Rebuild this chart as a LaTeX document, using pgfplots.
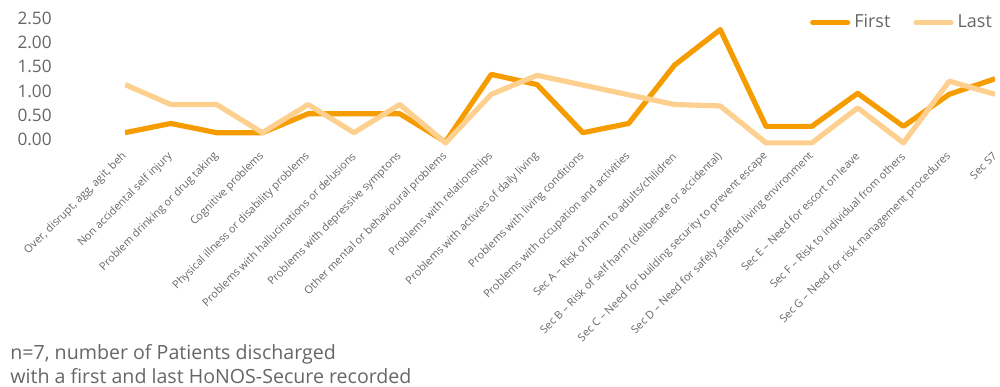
\documentclass[border=0pt]{standalone}
\usepackage{fontspec}
\setmainfont{Open Sans}
\usepackage{pgfplots}
\pgfplotsset{compat=1.18}
\definecolor{first}{HTML}{F59C00}
\definecolor{last}{HTML}{FDD08F}
\definecolor{txt}{HTML}{666666}

\begin{document}
\begin{tikzpicture}
\begin{axis}[
  scale only axis,
  width=435pt, height=65.6pt,
  xmin=0, xmax=19, ymin=-0.2, ymax=2.5,
  axis line style={draw=none},
  major tick length=0pt,
  xtick={0,...,19},
  xticklabels={
    {Over, disrupt, agg, agit, beh},
    Non accidental self injury,
    Problem drinking or drug taking,
    Cognitive problems,
    Physical illness or disability problems,
    Problems with hallucinations or delusions,
    Problems with depressive symptons,
    Other mental or behavioural problems,
    Problems with relationships,
    Problems with activies of daily living,
    Problems with living conditions,
    Problems with occupation and activities,
    Sec A – Risk of harm to adults/chilidren,
    Sec B – Risk of self harm (deliberate or accidental),
    Sec C – Need for building security to prevent escape,
    Sec D – Need for safely staffed living environment,
    Sec E – Need for escort on leave,
    Sec F – Risk to individual from others,
    Sec G – Need for risk management procedures,
    Sec S7},
  xticklabel style={rotate=45, anchor=east, inner sep=0pt, text=txt,
    font=\fontsize{5.45}{6}\selectfont},
  xticklabel shift=2.5pt,
  ytick={0,0.5,1,1.5,2,2.5},
  yticklabels={0.00,0.50,1.00,1.50,2.00,2.50},
  yticklabel style={anchor=east, inner sep=0pt, xshift=-36.5pt, text=txt,
    font=\fontsize{8.6}{9}\selectfont},
  legend columns=2,
  legend style={at={(rel axis cs:1.0084,1.09)}, anchor=north east, draw=none, fill=none,
    text=txt, font=\fontsize{9}{10}\selectfont,
    /tikz/every even column/.append style={column sep=9.5pt}},
  legend image code/.code={\draw[#1, line cap=round] (0pt,0pt) -- (17.5pt,0pt);},
]
\coordinate (bl) at (rel axis cs:0,0);
\coordinate (tr) at (rel axis cs:1,1);
\addplot[first, line width=2.6pt, line join=round, mark=none] coordinates {
  (0,0.14) (1,0.33) (2,0.14) (3,0.14) (4,0.53) (5,0.53) (6,0.53) (7,-0.05)
  (8,1.34) (9,1.13) (10,0.14) (11,0.33) (12,1.53) (13,2.26) (14,0.27)
  (15,0.27) (16,0.95) (17,0.27) (18,0.93) (19,1.25)};
\addplot[last, line width=2.6pt, line join=round, mark=none] coordinates {
  (0,1.13) (1,0.72) (2,0.72) (3,0.14) (4,0.72) (5,0.14) (6,0.72) (7,-0.07)
  (8,0.93) (9,1.32) (10,1.12) (11,0.92) (12,0.72) (13,0.69) (14,-0.07)
  (15,-0.07) (16,0.65) (17,-0.07) (18,1.20) (19,0.93)};
\legend{First, Last}
\end{axis}
\node[anchor=south west, inner sep=0pt, align=left, text=txt,
  font=\fontsize{9.8}{12}\selectfont] at ([xshift=-57.5pt,yshift=-117.6pt]bl)
  {n=7, number of Patients discharged\\with a first and last HoNOS-Secure recorded};
\pgfresetboundingbox
\path[use as bounding box] ([xshift=-62.5pt,yshift=-118.6pt]bl) rectangle ([xshift=2.5pt,yshift=9pt]tr);
\end{tikzpicture}
\end{document}
